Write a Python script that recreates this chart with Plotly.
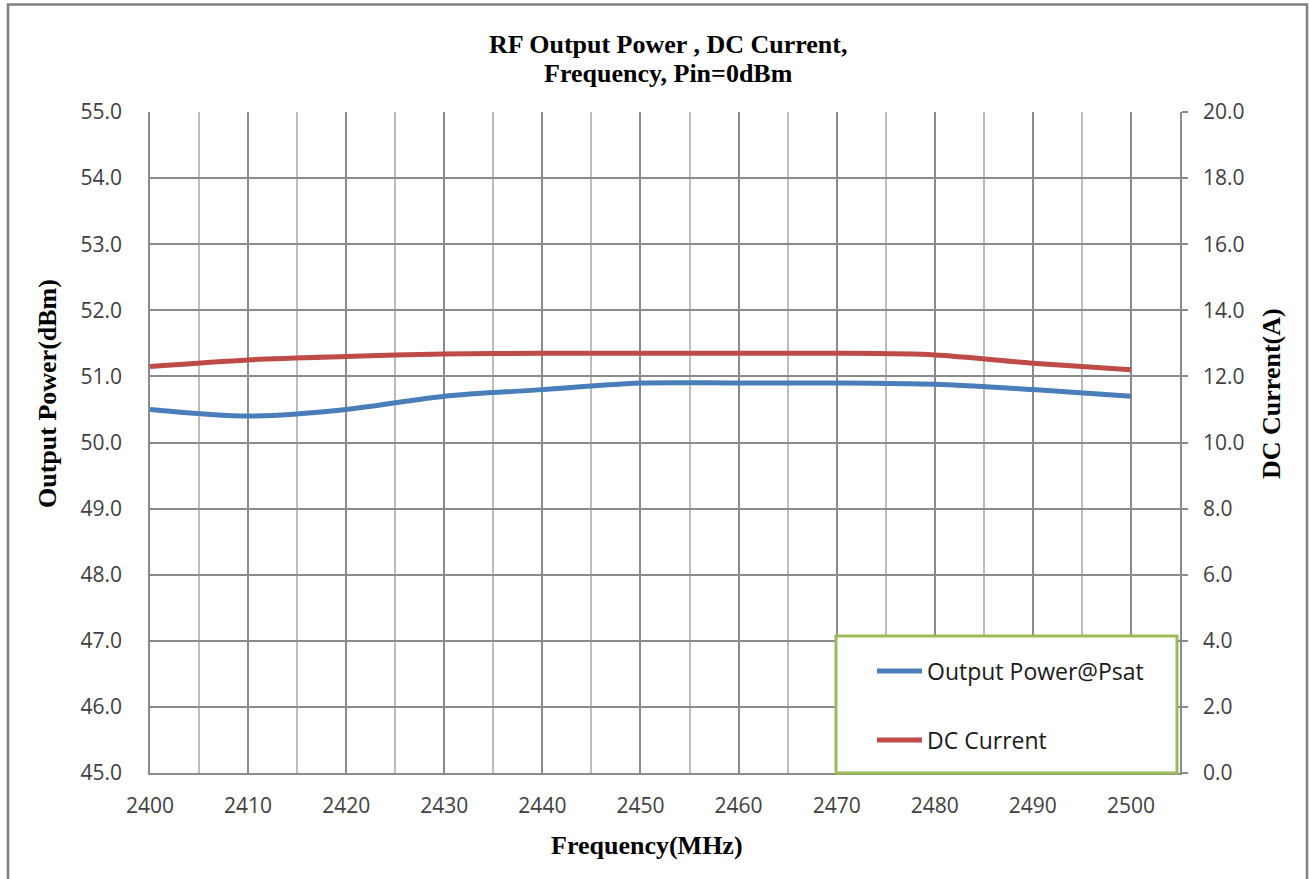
import plotly.graph_objects as go

freq = [2400, 2410, 2420, 2430, 2440, 2450, 2460, 2470, 2480, 2490, 2500]
power = [50.5, 50.4, 50.5, 50.7, 50.8, 50.9, 50.9, 50.9, 50.88, 50.8, 50.7]
current = [12.3, 12.5, 12.6, 12.68, 12.7, 12.7, 12.7, 12.7, 12.65, 12.4, 12.2]

left_ticks = [45 + i for i in range(11)]
right_ticks = [2 * i for i in range(11)]
x_ticks = list(range(2400, 2501, 10))

W, H = 1309, 879
L, R, T, B = 150, 1180, 112, 773

def px(x):
    return (x - L) / (R - L)

def py(y):
    return (B - y) / (B - T)

fig = go.Figure()
fig.add_trace(go.Scatter(x=freq, y=power, mode="lines", name="Output Power@Psat",
                         line=dict(color="#4A7EBB", width=5, shape="spline", smoothing=0.8),
                         legend="legend"))
fig.add_trace(go.Scatter(x=freq, y=current, mode="lines", name="DC Current", yaxis="y2",
                         line=dict(color="#BE4B48", width=5, shape="spline", smoothing=0.8),
                         legend="legend2"))

tickfont = dict(family="Open Sans", size=21, color="#404040")
serif = dict(family="Liberation Serif", size=26, color="black")

annotations = [
    dict(text="<b>RF Output Power , DC Current,</b>", x=px(668), y=py(45)),
    dict(text="<b>Frequency, Pin=0dBm</b>", x=px(668), y=py(73)),
    dict(text="<b>Frequency(MHz)</b>", x=px(647), y=py(845)),
    dict(text="<b>Output Power(dBm)</b>", x=px(48), y=py(394), textangle=-90),
    dict(text="<b>DC Current(A)</b>", x=px(1272), y=py(394), textangle=-90),
]
for a in annotations:
    a.update(xref="paper", yref="paper", showarrow=False, xanchor="center",
             yanchor="middle", font=serif)

fig.update_layout(
    width=W, height=H,
    margin=dict(l=L, r=W - R, t=T, b=H - B),
    paper_bgcolor="white", plot_bgcolor="white",
    xaxis=dict(range=[2400, 2505], tickvals=x_ticks, ticktext=[str(v) for v in x_ticks],
               showgrid=True, gridcolor="#8a8a8a", gridwidth=1.5,
               minor=dict(dtick=5, tick0=2400, showgrid=True, gridcolor="#bdbdbd", gridwidth=1.5),
               showline=True, linecolor="#8a8a8a", linewidth=1.5,
               ticks="", tickfont=tickfont, ticklabelstandoff=13,
               zeroline=False),
    yaxis=dict(range=[45, 55], tickvals=left_ticks, ticktext=[f"{v:.1f}" for v in left_ticks],
               showgrid=True, gridcolor="#8a8a8a", gridwidth=1.5,
               showline=True, linecolor="#8a8a8a", linewidth=1.5,
               ticks="", tickfont=tickfont, ticklabelstandoff=22,
               zeroline=False),
    yaxis2=dict(range=[0, 20], tickvals=right_ticks, ticktext=[f"{v:.1f}" for v in right_ticks],
                overlaying="y", side="right", showgrid=False,
                showline=True, linecolor="#8a8a8a", linewidth=1.5,
                ticks="outside", ticklen=6, tickcolor="#8a8a8a", tickwidth=1.5,
                tickfont=tickfont, ticklabelstandoff=11,
                zeroline=False),
    legend=dict(x=px(872), y=py(671), xanchor="left", yanchor="middle",
                bgcolor="rgba(0,0,0,0)", borderwidth=0,
                font=dict(family="Open Sans", size=23, color="#1a1a1a"),
                itemwidth=45, itemclick=False),
    legend2=dict(x=px(872), y=py(740), xanchor="left", yanchor="middle",
                 bgcolor="rgba(0,0,0,0)", borderwidth=0,
                 font=dict(family="Open Sans", size=23, color="#1a1a1a"),
                 itemwidth=45, itemclick=False),
    shapes=[
        dict(type="rect", xref="paper", yref="paper",
             x0=px(836), x1=px(1177), y0=py(773), y1=py(636),
             line=dict(color="#9BBB59", width=3), fillcolor="white", layer="above"),
        dict(type="rect", xref="paper", yref="paper",
             x0=px(8), x1=px(1307), y0=py(895), y1=py(4.5),
             line=dict(color="#808080", width=2.5), fillcolor="rgba(0,0,0,0)", layer="below"),
    ],
    annotations=annotations,
    showlegend=True,
)

fig.write_html("out.html", config={"displayModeBar": False},
               post_script="document.body.style.margin='0';")
